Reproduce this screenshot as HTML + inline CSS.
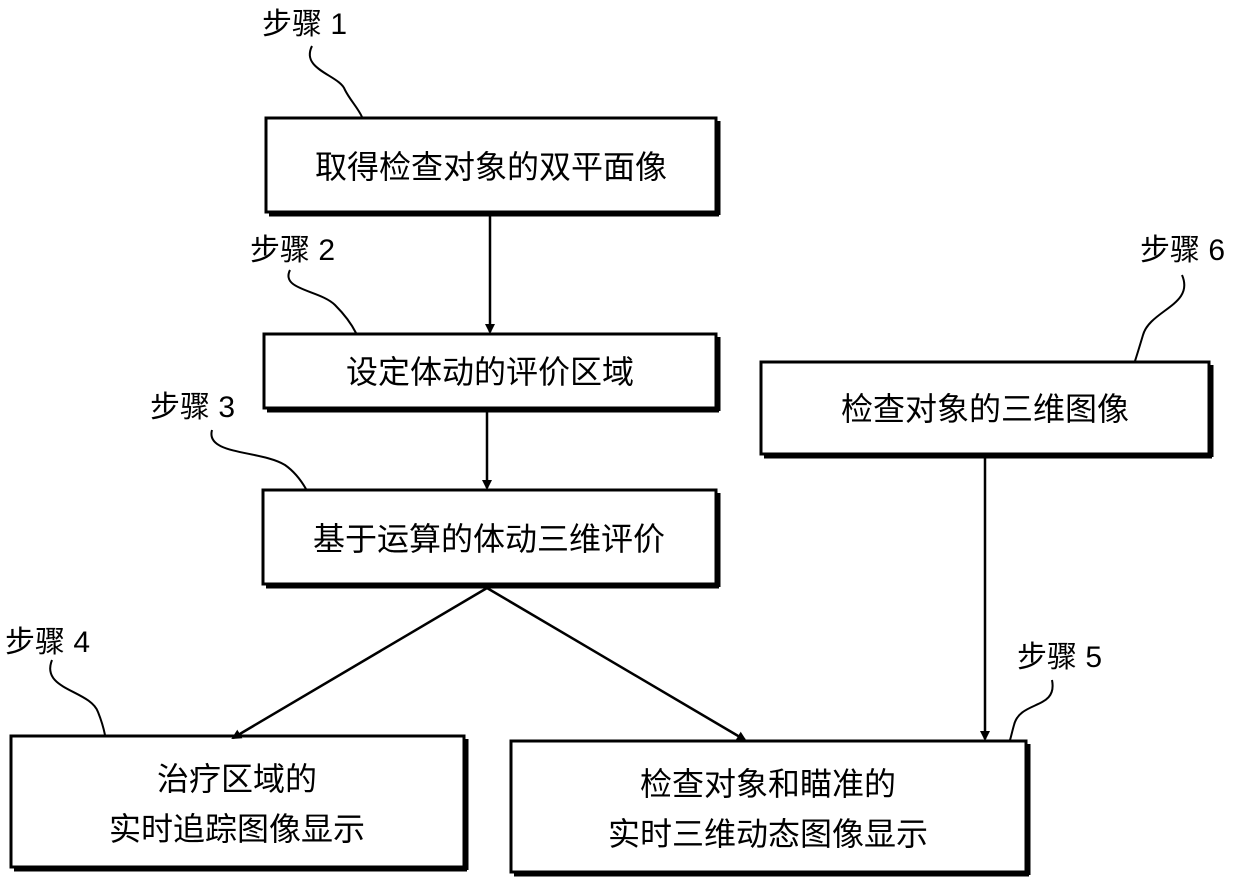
<!DOCTYPE html>
<html><head><meta charset="utf-8"><style>
body{margin:0;background:#fff}
text{font-family:"Liberation Sans","Noto Sans CJK SC",sans-serif;fill:#000}
</style></head><body>
<svg width="1240" height="886" viewBox="0 0 1240 886" xmlns="http://www.w3.org/2000/svg">
<defs><marker id="a" markerWidth="10" markerHeight="10" refX="8" refY="5" orient="auto" markerUnits="userSpaceOnUse" viewBox="0 0 10 10"><path d="M0,0 L10,5 L0,10 z" fill="#000"/></marker></defs>
<g fill="#fff" stroke="#000" stroke-width="3">
<rect x="266" y="118" width="450" height="94"/>
<rect x="264" y="334" width="452" height="74"/>
<rect x="263" y="490" width="453" height="94"/>
<rect x="761" y="362" width="448" height="92"/>
<rect x="11" y="736" width="453" height="131"/>
<rect x="511" y="741" width="515" height="131"/>
</g>
<g stroke="#000" stroke-width="3">
<line x1="719" y1="121" x2="719" y2="215"/><line x1="269" y1="215" x2="719" y2="215"/>
<line x1="719" y1="337" x2="719" y2="411"/><line x1="267" y1="411" x2="719" y2="411"/>
<line x1="719" y1="493" x2="719" y2="587"/><line x1="266" y1="587" x2="719" y2="587"/>
<line x1="1212" y1="365" x2="1212" y2="457"/><line x1="764" y1="457" x2="1212" y2="457"/>
<line x1="467" y1="739" x2="467" y2="870"/><line x1="14" y1="870" x2="467" y2="870"/>
<line x1="1029" y1="744" x2="1029" y2="875"/><line x1="514" y1="875" x2="1029" y2="875"/>
</g>
<g stroke="#000" stroke-width="2.5" fill="none" marker-end="url(#a)">
<line x1="490" y1="215" x2="490" y2="332"/>
<line x1="487" y1="411" x2="487" y2="488"/>
<line x1="487" y1="588" x2="233" y2="738"/>
<line x1="487" y1="588" x2="745" y2="740"/>
<line x1="985" y1="457" x2="985" y2="739"/>
</g>
<g stroke="#000" stroke-width="2" fill="none">
<path d="M312,46 C300,70 340,75 345,90 C350,100 358,108 362,117"/>
<path d="M290,270 C280,290 320,290 335,305 C345,315 352,325 356,333"/>
<path d="M212,430 C205,455 260,450 285,465 C295,472 302,482 306,489"/>
<path d="M52,660 C40,690 90,690 98,712 C102,722 104,730 105,735"/>
<path d="M1052,680 C1058,710 1020,700 1014,725 C1012,732 1011,737 1010,740"/>
<path d="M1182,275 C1195,305 1150,310 1143,335 C1140,345 1137,355 1135,361"/>
</g>
<g font-size="30">
<text x="262" y="34">步骤 1</text>
<text x="250" y="260">步骤 2</text>
<text x="150" y="417">步骤 3</text>
<text x="5" y="652">步骤 4</text>
<text x="1017" y="667">步骤 5</text>
<text x="1140" y="260">步骤 6</text>
</g>
<g font-size="32" text-anchor="middle">
<text x="491" y="178">取得检查对象的双平面像</text>
<text x="490" y="383">设定体动的评价区域</text>
<text x="489" y="550">基于运算的体动三维评价</text>
<text x="985" y="420">检查对象的三维图像</text>
<text x="237" y="790">治疗区域的</text>
<text x="237" y="840">实时追踪图像显示</text>
<text x="768" y="795">检查对象和瞄准的</text>
<text x="768" y="845">实时三维动态图像显示</text>
</g>
</svg>
</body></html>
